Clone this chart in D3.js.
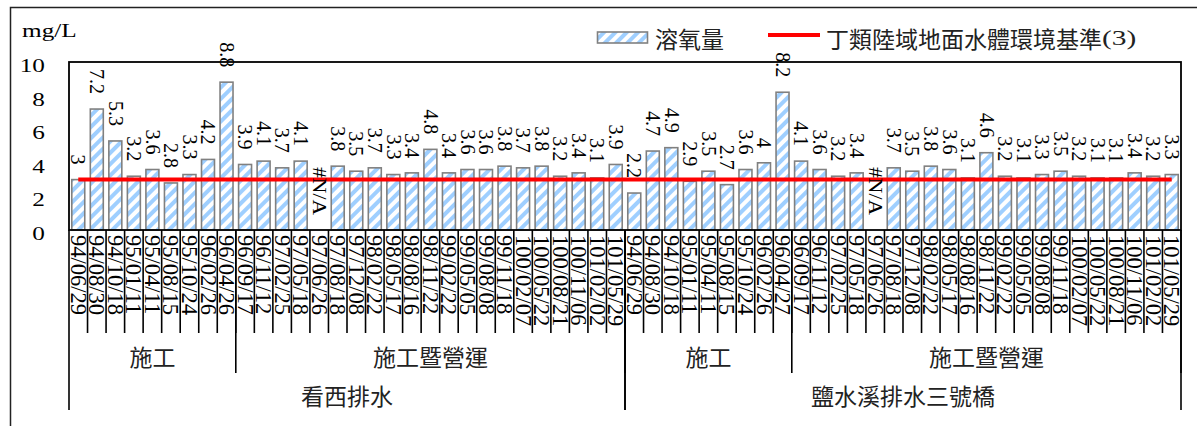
<!DOCTYPE html>
<html><head><meta charset="utf-8">
<script src="https://cdn.jsdelivr.net/npm/d3@7"></script>
<style>html,body{margin:0;padding:0;background:#fff;} svg{display:block;}</style>
</head><body>
<svg id="chart" width="1197" height="426"></svg>
<script>
const site1Dates = ["94/06/29","94/08/30","94/10/18","95/01/11","95/04/11","95/08/15","95/10/24","96/02/26","96/04/26","96/09/17","96/11/12","97/02/25","97/05/18","97/06/26","97/08/18","97/12/08","98/02/22","98/05/17","98/08/16","98/11/22","99/02/22","99/05/05","99/08/08","99/11/18","100/02/07","100/05/22","100/08/21","100/11/06","101/02/02","101/05/29"];
const site2Dates = ["94/06/29","94/08/30","94/10/18","95/01/11","95/04/11","95/08/15","95/10/24","96/02/26","96/04/27","96/09/17","96/11/12","97/02/25","97/05/18","97/06/26","97/08/18","97/12/08","98/02/22","98/05/17","98/08/16","98/11/22","99/02/22","99/05/05","99/08/08","99/11/18","100/02/07","100/05/22","100/08/21","100/11/06","101/02/02","101/05/29"];
const site1Values = [3,7.2,5.3,3.2,3.6,2.8,3.3,4.2,8.8,3.9,4.1,3.7,4.1,null,3.8,3.5,3.7,3.3,3.4,4.8,3.4,3.6,3.6,3.8,3.7,3.8,3.2,3.4,3.1,3.9];
const site2Values = [2.2,4.7,4.9,2.9,3.5,2.7,3.6,4,8.2,4.1,3.6,3.2,3.4,null,3.7,3.5,3.8,3.6,3.1,4.6,3.2,3.1,3.3,3.5,3.2,3.1,3.1,3.4,3.2,3.3];
const siteNames = ["看西排水","鹽水溪排水三號橋"];
const phaseNames = ["施工","施工暨營運"];
const phaseCounts = [9,21];
const seriesName = "溶氧量";
const standardName = "丁類陸域地面水體環境基準";
const standardSuffix = "(3)";
const standardValue = 3;
const yTicks = [0,2,4,6,8,10];
const unitLabel = "mg/L";

// build flat category list
const cats = [];
[[site1Dates, site1Values],[site2Dates, site2Values]].forEach(([ds, vs], s) => {
  ds.forEach((d, i) => cats.push({site: s, date: d, value: vs[i]}));
});

const L = 69, R = 1181, T = 62, B = 230;
const svg = d3.select("#chart");
const serif = "'Liberation Serif','Times New Roman',serif";
const cjk = "'Noto Sans CJK TC','Noto Sans CJK SC',sans-serif";

const defs = svg.append("defs");
const pat = defs.append("pattern").attr("id","hatch").attr("patternUnits","userSpaceOnUse")
  .attr("width",8).attr("height",8).attr("patternTransform","rotate(45)");
pat.append("rect").attr("width",8).attr("height",8).attr("fill","#fff");
pat.append("rect").attr("x",0).attr("width",4).attr("height",8).attr("fill","#9fcfff");

// outer border
svg.append("rect").attr("x",10.5).attr("y",7.5).attr("width",1200).attr("height",440)
  .attr("fill","none").attr("stroke","#222").attr("stroke-width",1.5);

const x = d3.scaleBand().domain(d3.range(cats.length)).range([L,R]).paddingInner(0.3).paddingOuter(0.15);
const step = x.step();
const y = d3.scaleLinear().domain([0,10]).range([B,T]);
const cx = i => x(i) + x.bandwidth()/2;

// bars
svg.append("g").selectAll("rect").data(cats.map((c,i)=>({...c,i})).filter(c=>c.value!=null)).join("rect")
  .attr("x", c => x(c.i)).attr("width", x.bandwidth())
  .attr("y", c => y(c.value)).attr("height", c => y(0)-y(c.value))
  .attr("fill","url(#hatch)").attr("stroke","#808080").attr("stroke-width",1.6);

// plot border
svg.append("rect").attr("x",L).attr("y",T).attr("width",R-L).attr("height",B-T)
  .attr("fill","none").attr("stroke","#000").attr("stroke-width",1.8);

// standard line
const line = d3.line().x(d=>d[0]).y(d=>y(d[1]));
svg.append("path").attr("d", line([[cx(0),standardValue],[cx(cats.length-1),standardValue]]))
  .attr("stroke","#ff0000").attr("stroke-width",4).attr("fill","none");

// value labels
svg.append("g").selectAll("text").data(cats).join("text")
  .attr("transform",(c,i)=>`translate(${cx(i)},${y(c.value==null?0:c.value)-15}) rotate(90)` + (c.value==null?" scale(1.2,1)":""))
  .attr("text-anchor","end").attr("dy","0.34em")
  .attr("font-family", serif)
  .attr("font-size", c => c.value==null ? 18 : 20)
  .attr("fill","#000")
  .text(c => c.value==null ? "#N/A" : d3.format("~g")(c.value));

// y axis
const yAxis = svg.append("g").attr("transform","translate(45,0)")
  .call(d3.axisLeft(y).tickValues(yTicks).tickSize(0).tickFormat(d3.format("d")));
yAxis.select(".domain").remove();
yAxis.attr("font-family",serif).attr("font-size",19);
yAxis.selectAll("text").attr("x",0).attr("dy",null).attr("y",9.5)
  .attr("transform","scale(1.33,1)").attr("text-anchor","end")
  .attr("font-family",serif).attr("font-size",19).attr("fill","#000");

svg.append("text").attr("transform","translate(22,37) scale(1.33,1)")
  .attr("font-family",serif).attr("font-size",19).attr("fill","#000").text(unitLabel);

// category axis lines
const ax = svg.append("g").attr("stroke","#000").attr("stroke-width",1.6);
const bnd = i => L + step*i;
cats.forEach((c,i) => { if (i>0) ax.append("line").attr("x1",bnd(i)).attr("x2",bnd(i)).attr("y1",B).attr("y2",333); });
// phase & site boundaries
let idx = 0;
const phaseSpans = [];
const siteSpans = [];
siteNames.forEach((s, si) => {
  const s0 = idx;
  phaseCounts.forEach((n, pi) => {
    phaseSpans.push({name: phaseNames[pi], a: idx, b: idx+n});
    idx += n;
  });
  siteSpans.push({name: s, a: s0, b: idx});
});
phaseSpans.forEach(p => ax.append("line").attr("x1",bnd(p.b)).attr("x2",bnd(p.b)).attr("y1",B).attr("y2",373));
siteSpans.forEach(s => {
  ax.append("line").attr("x1",bnd(s.a)).attr("x2",bnd(s.a)).attr("y1",B).attr("y2",410);
  ax.append("line").attr("x1",bnd(s.b)).attr("x2",bnd(s.b)).attr("y1",B).attr("y2",410);
});

// date labels
svg.append("g").selectAll("text").data(cats).join("text")
  .attr("transform",(c,i)=>`translate(${cx(i)},235) rotate(90)`)
  .attr("text-anchor","start").attr("dy","0.33em")
  .attr("font-family",serif).attr("font-size",22.5).attr("fill","#000")
  .text(c=>c.date);

// phase labels
svg.append("g").selectAll("text").data(phaseSpans).join("text")
  .attr("x", p => (bnd(p.a)+bnd(p.b))/2).attr("y",356).attr("dominant-baseline","central")
  .attr("text-anchor","middle").attr("font-family",cjk).attr("font-size",23).attr("fill","#222")
  .text(p=>p.name);
svg.append("g").selectAll("text").data(siteSpans).join("text")
  .attr("x", s => (bnd(s.a)+bnd(s.b))/2).attr("y",395).attr("dominant-baseline","central")
  .attr("text-anchor","middle").attr("font-family",cjk).attr("font-size",23).attr("fill","#222")
  .text(s=>s.name);

// legend
const lg = svg.append("g");
lg.append("rect").attr("x",597.5).attr("y",32).attr("width",50).attr("height",11)
  .attr("fill","url(#hatch)").attr("stroke","#808080").attr("stroke-width",1.6);
lg.append("text").attr("x",655).attr("y",37.5).attr("dominant-baseline","central")
  .attr("font-family",cjk).attr("font-size",23).attr("fill","#222").text(seriesName);
lg.append("line").attr("x1",768).attr("x2",820).attr("y1",35).attr("y2",35)
  .attr("stroke","#ff0000").attr("stroke-width",4);
const st = lg.append("text").attr("x",826).attr("y",37.5).attr("dominant-baseline","central")
  .attr("font-family",cjk).attr("font-size",23).attr("fill","#222").text(standardName);
const w = st.node().getComputedTextLength();
lg.append("text").attr("transform",`translate(${826+w},45) scale(1.4,1)`)
  .attr("font-family",serif).attr("font-size",21).attr("fill","#222").text(standardSuffix);
</script>
</body></html>
